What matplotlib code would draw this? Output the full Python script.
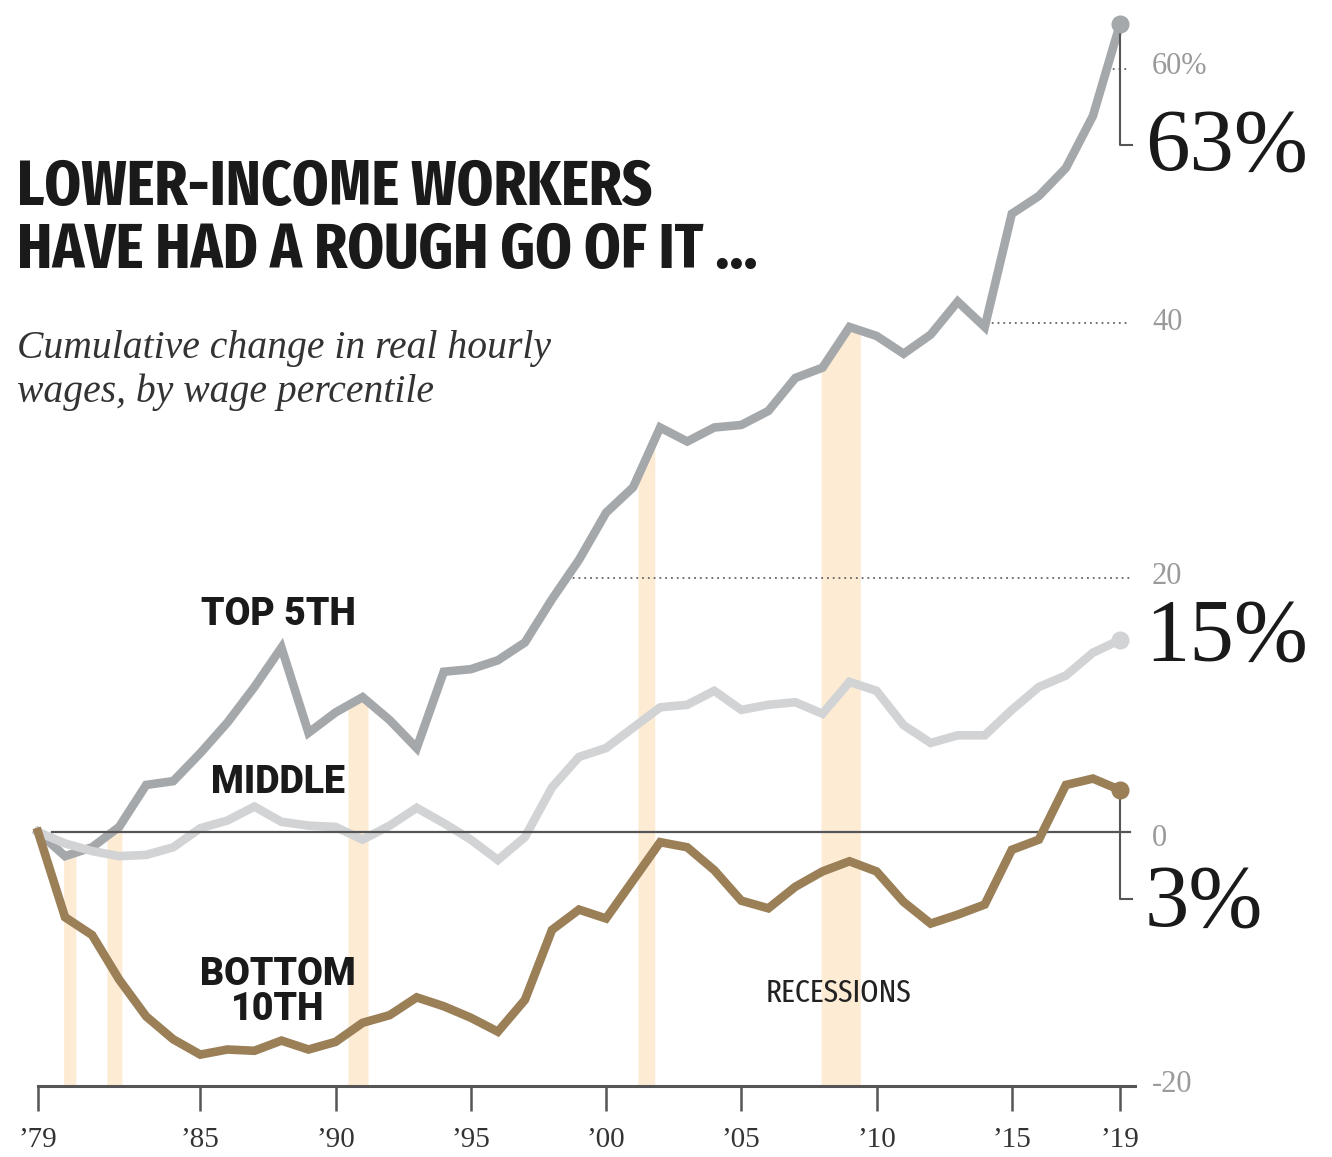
import numpy as np
import matplotlib
matplotlib.use("Agg")
import matplotlib.pyplot as plt
from matplotlib import font_manager as fm

# ---- data ----
years = list(range(1979, 2020))
top5 = [0, -1.9, -1.2, 0.4, 3.7, 4.0, 6.2, 8.6, 11.4, 14.5, 7.8, 9.4, 10.6, 8.8, 6.6,
        12.6, 12.8, 13.5, 14.9, 18.3, 21.4, 25.1, 27.1, 31.8, 30.7, 31.8, 32.0, 33.1,
        35.7, 36.5, 39.7, 39.0, 37.6, 39.1, 41.7, 39.7, 48.6, 50.0, 52.2, 56.3, 63.5]
middle = [0, -0.9, -1.5, -1.9, -1.8, -1.2, 0.3, 0.9, 2.0, 0.8, 0.5, 0.4, -0.6, 0.5, 1.9,
          0.7, -0.6, -2.2, -0.4, 3.5, 5.9, 6.6, 8.2, 9.8, 10.0, 11.1, 9.6, 10.0, 10.2,
          9.3, 11.8, 11.1, 8.4, 7.0, 7.6, 7.6, 9.6, 11.4, 12.3, 14.1, 15.1]
bottom10 = [0, -6.7, -8.1, -11.6, -14.5, -16.3, -17.5, -17.1, -17.2, -16.4, -17.1, -16.5,
            -15.0, -14.4, -13.0, -13.7, -14.6, -15.7, -13.2, -7.7, -6.1, -6.8, -3.8, -0.8,
            -1.2, -3.0, -5.4, -6.0, -4.3, -3.1, -2.3, -3.1, -5.5, -7.2, -6.5, -5.7, -1.4,
            -0.6, 3.7, 4.2, 3.3]
rec_start = [1979.95, 1981.55, 1990.46, 2001.18, 2007.95]
rec_end = [1980.40, 1982.10, 1991.20, 2001.80, 2009.40]
tick_years = [1979, 1985, 1990, 1995, 2000, 2005, 2010, 2015, 2019]
tick_labels = ["\u201979", "\u201985", "\u201990", "\u201995", "\u201900", "\u201905",
               "\u201910", "\u201915", "\u201919"]
grid_levels = [60, 40, 20, 0, -20]
grid_labels = ["60%", "40", "20", "0", "-20"]
end_labels = ["63%", "15%", "3%"]


def find_font(keys, bold):
    """Return path of first installed font whose file/name matches keys."""
    for key in keys:
        for f in fm.fontManager.ttflist:
            nm = (f.name + " " + f.fname).lower().replace("-", "").replace("_", "")
            wt = f.weight if isinstance(f.weight, int) else 400
            if key in nm and ((bold and wt >= 600) or (not bold and 350 <= wt < 500)):
                if f.style == "normal":
                    return f.fname
    return None


cond_bold = find_font(["extracondensedbold", "extracondensed", "narrowbold", "condensedbold",
                       "condensed", "narrow"], True)
cond_reg = find_font(["extracondensedregular", "condensedregular", "narrow", "semicondensed",
                      "condensed"], False)

W, H = 1332, 1157
fig = plt.figure(figsize=(W / 100, H / 100), dpi=100)
ax = fig.add_axes([0, 0, 1, 1])
ax.set_axis_off()
PXY = 27.05   # px per year
PXV = 12.72   # px per unit
ax.set_xlim(1979 - 38 / PXY, 1979 + (W - 38) / PXY)
ax.set_ylim(-(H - 832) / PXV, 832 / PXV)


def fx(px):
    return px / W


def fy(py):
    return 1 - py / H


TOP_C = "#a5a8ab"
MID_C = "#d1d3d5"
BOT_C = "#9a7f57"
BAND_C = "#fdebd4"
AXIS_C = "#555555"
LAB_C = "#9a9a9a"

yrs = np.array(years, float)
top_arr = np.array(top5, float)

# recession bands (fill up to the top-5th line)
for s, e in zip(rec_start, rec_end):
    xs = np.linspace(s, e, 40)
    ax.fill_between(xs, -20, np.interp(xs, yrs, top_arr), color=BAND_C, lw=0, zorder=1)

x_end_grid = 2019.37
for lvl in [20, 40, 60]:
    idx = np.where(top_arr < lvl)[0][-1]
    x0 = yrs[idx] + (lvl - top_arr[idx]) / (top_arr[idx + 1] - top_arr[idx])
    ax.plot([x0, x_end_grid], [lvl, lvl], color="#666666", lw=1.3,
            linestyle=(0, (1, 2.2)), zorder=2)

lw = 6.2
ax.plot(years, top5, color=TOP_C, lw=lw, solid_joinstyle="miter", zorder=3)
ax.plot(years, middle, color=MID_C, lw=lw, solid_joinstyle="miter", zorder=4)
ax.plot([1979.5, x_end_grid], [0, 0], color=AXIS_C, lw=1.6, zorder=5)
ax.plot(years, bottom10, color=BOT_C, lw=lw, solid_joinstyle="miter", zorder=6)

ms = 12
ax.plot([years[-1]], [top5[-1]], "o", color=TOP_C, ms=ms, zorder=7)
ax.plot([years[-1]], [middle[-1]], "o", color=MID_C, ms=ms, zorder=7)
ax.plot([years[-1]], [bottom10[-1]], "o", color=BOT_C, ms=ms, zorder=7)

xb = 2019.0
xh = 2019.44
ax.plot([xb, xb, xh], [top5[-1], 54.0, 54.0], color=AXIS_C, lw=1.5, zorder=6.5)
ax.plot([xb, xb, xh], [bottom10[-1], -5.27, -5.27], color=AXIS_C, lw=1.5, zorder=5.5)

ax.plot([1979, 2019.55], [-20, -20], color=AXIS_C, lw=2.2, zorder=5)
for ty, tl in zip(tick_years, tick_labels):
    ax.plot([ty, ty], [-20, -21.9], color=AXIS_C, lw=1.8, zorder=5, solid_capstyle="butt")
    ax.text(ty, -24.2, tl, ha="center", va="center", fontsize=21,
            family="Liberation Serif", color="#333333")

xl = 2019 + (1152 - 1120) / PXY
grid_y = {60: 67, 40: 323, 20: 577, 0: 838, -20: 1085}
for lvl, lab in zip(grid_levels, grid_labels):
    ax.text(xl, (832 - grid_y[lvl]) / PXV, lab, ha="left", va="center", fontsize=22,
            family="Liberation Serif", color=LAB_C)

xe = 2019 + (1145 - 1120) / PXY
big_y = [148, 638, 904]
for lab, py in zip(end_labels, big_y):
    ax.text(xe, (832 - py) / PXV, lab, ha="left", va="center", fontsize=64,
            family="Liberation Serif", color="#1a1a1a")

# title
if cond_bold:
    tprop = dict(fontproperties=fm.FontProperties(fname=cond_bold, size=46))
else:
    tprop = dict(fontsize=30, fontweight="bold", family=["Roboto", "DejaVu Sans"])
fig.text(fx(17), fy(205), "LOWER-INCOME WORKERS", ha="left", va="baseline",
         color="#1a1a1a", **tprop)
fig.text(fx(17), fy(268), "HAVE HAD A ROUGH GO OF IT ...", ha="left", va="baseline",
         color="#1a1a1a", **tprop)
fig.text(fx(17), fy(358), "Cumulative change in real hourly", ha="left", va="baseline",
         fontsize=28.5, style="italic", family="Liberation Serif", color="#333333")
fig.text(fx(17), fy(402), "wages, by wage percentile", ha="left", va="baseline",
         fontsize=28.5, style="italic", family="Liberation Serif", color="#333333")

sfam = ["Roboto", "DejaVu Sans"]
for txt, py in [("TOP 5TH", 625), ("MIDDLE", 793), ("BOTTOM", 985), ("10TH", 1020)]:
    fig.text(fx(278), fy(py), txt, ha="center", va="baseline", fontsize=27,
             fontweight="heavy", family=sfam, color="#1a1a1a")

if cond_reg:
    rprop = dict(fontproperties=fm.FontProperties(fname=cond_reg, size=23))
else:
    rprop = dict(fontsize=17, family=["Roboto", "DejaVu Sans"])
fig.text(fx(838), fy(1002), "RECESSIONS", ha="center", va="baseline",
         color="#222222", **rprop)

fig.savefig("out.png", dpi=100, facecolor="white")
